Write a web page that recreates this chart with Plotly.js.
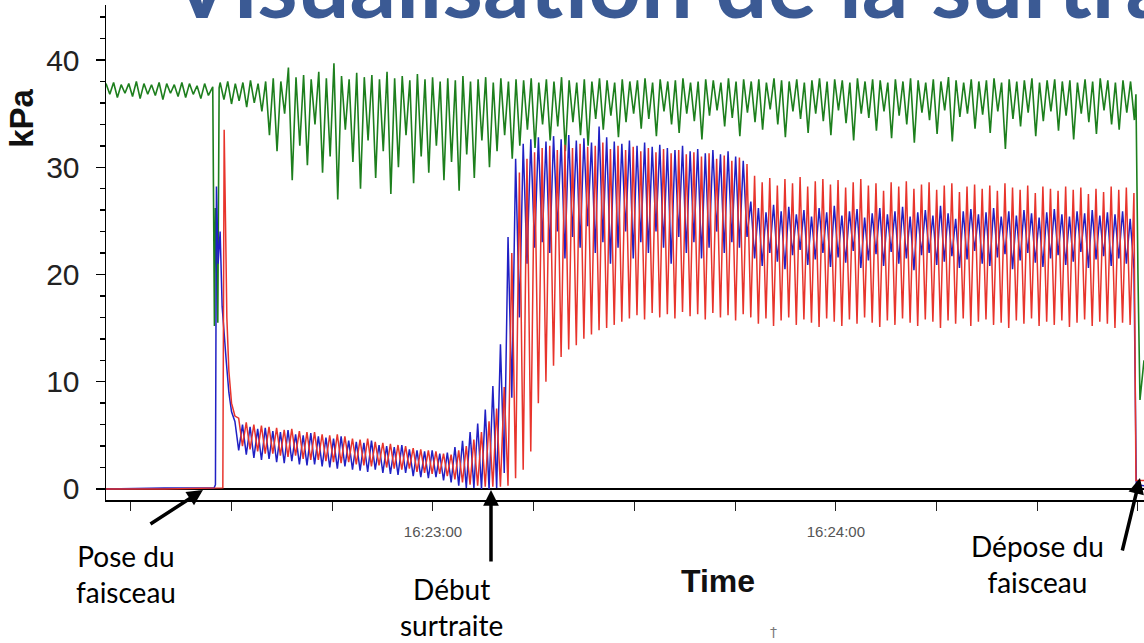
<!DOCTYPE html>
<html>
<head>
<meta charset="utf-8">
<script src="https://cdn.plot.ly/plotly-3.0.1.min.js"></script>
<style>
  html, body { margin: 0; padding: 0; background: #ffffff; }
  #chart { width: 1144px; height: 643px; }
</style>
</head>
<body>
<div id="chart"></div>
<script>
// ---- time axis (seconds after 16:22:00) ----
const xRange = [11.3, 165.9];
const tickSeconds = [15, 30, 45, 60, 75, 90, 105, 120, 135, 150, 165];
const tickLabels = ['', '', '', '16:23:00', '', '', '', '16:24:00', '', '', ''];
const cyclePeriod = 1.13;          // one breathing cycle, s

// ---- blue channel ----
const blueLeadT = [11.3, 20.0, 27.4, 27.6, 27.75, 28.0, 28.3, 28.6, 29.2, 29.6, 30.0];
const blueLeadV = [0.0, 0.1, 0.1, 0.4, 28.2, 21.0, 24.0, 17.0, 12.0, 9.0, 7.2];
const blueStart = 30.5;
const bluePeaks = [
  6.3, 6.0, 5.8, 5.6, 5.7, 5.4, 5.3, 5.5, 5.1, 5.0,
  5.2, 4.9, 4.8, 4.7, 4.9, 4.5, 4.4, 4.3, 4.5, 4.1,
  4.0, 3.9, 4.1, 3.7, 3.6, 3.5, 3.6, 3.3,
  3.4, 3.9, 4.5, 5.3, 6.1, 7.4, 9.6, 13.5, 23.5, 30.8, 32.2, 32.6,
  32.8, 32.4, 32.9, 32.6, 33.0, 32.5, 32.7, 32.3, 33.8, 32.8,
  32.4, 32.2, 32.5, 32.0, 32.3, 31.9, 32.1, 31.8, 31.6, 32.0,
  31.5, 31.7, 31.3, 31.6, 31.2, 31.5, 31.0, 30.6,
  26.8, 26.2, 25.8, 26.5, 25.9, 26.3, 25.6, 26.0, 25.4, 26.2,
  25.8, 26.4, 25.5, 25.9, 26.1, 25.3, 25.7, 26.2, 25.6, 25.9,
  26.3, 25.4, 25.8, 26.0, 25.5, 26.4, 25.7, 25.2, 25.9, 26.1,
  25.6, 25.8, 26.2, 25.4, 25.9, 25.5, 26.0, 25.7, 25.3, 25.8,
  26.1, 25.6, 25.4, 25.9, 25.7, 26.0, 25.5, 25.8, 25.6, 25.9, 25.2
];
const blueTroughs = [
  3.6, 3.2, 2.9, 2.7, 2.8, 2.5, 2.4, 2.6, 2.3, 2.2,
  2.3, 2.1, 2.0, 1.9, 2.1, 1.8, 1.7, 1.6, 1.8, 1.5,
  1.4, 1.3, 1.5, 1.2, 1.1, 1.0, 1.1, 0.8,
  0.6, 0.3, 0.1, 0.1, 0.0, 0.0, 0.1, 1.5, 8.5, 16.0, 21.0, 22.5,
  23.0, 22.0, 24.0, 21.5, 23.5, 22.5, 24.5, 22.0, 23.0, 21.0,
  22.5, 24.0, 21.5, 23.0, 22.0, 24.0, 22.5, 21.0, 23.5, 22.0,
  23.0, 21.5, 22.5, 24.0, 22.0, 23.0, 22.5, 23.5,
  21.5, 20.8, 22.0, 21.2, 20.5, 21.8, 22.3, 20.9, 21.4, 22.0,
  20.7, 21.6, 21.1, 22.2, 20.6, 21.3, 21.9, 20.8, 22.1, 21.0,
  21.5, 20.4, 21.8, 22.0, 20.9, 21.2, 21.7, 20.6, 21.4, 22.2,
  21.0, 20.8, 21.6, 21.9, 20.5, 21.3, 22.0, 21.1, 20.7, 21.5,
  21.8, 20.9, 21.2, 22.1, 20.6, 21.4, 21.7, 20.8, 21.5, 21.0, 20.5
];
const blueTailT = [164.75, 165.9];
const blueTailV = [0.4, 0.3];

// ---- red channel ----
const redLeadT = [11.3, 20.0, 28.7, 28.9, 29.1, 29.3, 29.6, 30.0, 30.5];
const redLeadV = [0.0, 0.0, 0.1, 33.5, 25.0, 16.0, 11.0, 8.0, 6.8];
const redStart = 31.06;
const redPeaks = [
  6.6, 6.2, 6.0, 5.9, 5.8, 5.7, 5.5, 5.6, 5.4, 5.3,
  5.3, 5.1, 5.0, 5.1, 4.9, 4.7, 4.6, 4.7, 4.4, 4.3,
  4.2, 4.1, 4.0, 3.8, 3.7, 3.6, 3.5, 3.3,
  3.2, 3.6, 4.0, 4.6, 5.3, 6.3, 7.5, 9.5, 22.0, 29.5, 30.8, 31.4,
  31.8, 32.0, 31.6, 32.1, 31.8, 32.2, 31.9, 32.0, 32.3, 31.7,
  32.0, 31.6, 31.9, 31.5, 31.8, 31.4, 31.7, 31.3, 31.6, 31.2,
  31.4, 31.0, 31.3, 30.8, 31.1, 30.6, 30.9, 30.3,
  29.2, 28.6, 29.0, 28.3, 28.9, 28.5, 29.1, 28.2, 28.7, 28.9,
  28.4, 28.8, 28.1, 28.6, 28.9, 28.3, 28.5, 27.8, 28.6, 28.2,
  28.7, 28.0, 28.4, 28.6, 27.9, 28.3, 28.5, 27.7, 28.2, 28.4,
  28.0, 28.3, 27.8, 28.5, 28.1, 27.9, 28.3, 27.6, 28.2, 28.0,
  27.8, 28.2, 27.9, 28.1, 27.5, 28.0, 27.7, 28.2, 27.9, 28.1, 27.6
];
const redTroughs = [
  4.0, 3.7, 3.5, 3.3, 3.3, 3.1, 3.0, 3.1, 2.8, 2.7,
  2.7, 2.6, 2.5, 2.4, 2.5, 2.3, 2.2, 2.1, 2.2, 2.0,
  1.9, 1.8, 1.9, 1.6, 1.5, 1.4, 1.4, 1.2,
  0.9, 0.6, 0.4, 0.3, 0.2, 0.2, 0.2, 0.3, 1.0, 1.8, 3.5, 8.0,
  10.0, 11.5, 12.3, 13.0, 13.4, 14.0, 14.4, 14.8, 15.0, 15.3,
  15.6, 15.9, 16.2, 15.8, 16.4, 16.0, 16.3, 15.9, 16.5, 16.1,
  16.3, 15.8, 16.4, 16.0, 16.2, 15.7, 16.3, 16.0,
  15.4, 15.9, 15.2, 15.7, 16.0, 15.3, 15.8, 15.5, 15.1, 15.9,
  15.6, 15.2, 15.8, 15.4, 16.0, 15.5, 15.1, 15.7, 15.3, 15.9,
  15.5, 15.2, 15.8, 15.6, 15.0, 15.7, 15.4, 15.9, 15.2, 15.6,
  15.8, 15.3, 15.5, 15.0, 15.7, 15.4, 15.9, 15.2, 15.6, 15.3,
  15.7, 15.1, 15.5, 15.8, 15.2, 15.6, 15.4, 15.0, 15.5, 15.3
];
const redTailT = [164.7, 165.9];
const redTailV = [0.8, 0.8];

// ---- green channel ----
const greenPreStart = 11.3;
const greenPreTops = [37.8, 37.9, 37.7, 37.8, 38.0, 37.8, 37.7, 37.9, 37.8, 37.7, 37.9, 37.8, 37.6, 37.8];
const greenPreBottoms = [36.8, 36.5, 36.9, 36.6, 36.4, 36.8, 36.7, 36.3, 36.9, 36.6, 36.5, 36.8, 36.4, 36.7];
const greenDipT = [27.2, 27.3, 27.45, 27.6, 27.75, 27.95, 28.15];
const greenDipV = [37.5, 24.0, 15.2, 26.2, 21.0, 15.5, 37.4];
const greenStart = 28.3;
const greenTops = [
  37.9, 38.0, 37.8, 37.9, 38.1, 37.8, 38.0, 38.3, 38.0, 39.3,
  38.4, 38.6, 38.2, 38.9, 38.3, 39.7, 38.5, 38.2, 38.8, 38.4,
  38.6, 38.2, 38.9, 38.3, 38.5, 38.1, 38.7, 38.2, 38.4, 38.0,
  38.3, 38.1, 38.5, 38.0, 38.2, 38.4, 37.9, 38.3, 38.0, 38.2,
  38.1, 38.3, 37.9, 38.2, 38.0, 38.4, 38.1, 37.9, 38.2, 38.0,
  38.3, 38.1, 37.9, 38.2, 38.0, 38.1, 38.3, 37.9, 38.2, 38.0,
  38.1, 38.3, 37.9, 38.0, 38.2, 38.1, 37.9, 38.3, 38.0, 38.2,
  38.0, 38.2, 37.9, 38.3, 38.1, 38.0, 38.2, 37.9, 38.1, 38.3,
  38.0, 38.2, 38.1, 37.9, 38.3, 38.0, 38.2, 38.1, 37.9, 38.2,
  38.0, 38.3, 38.1, 37.9, 38.2, 38.0, 38.4, 38.1, 37.9, 38.2,
  38.0, 38.1, 38.3, 37.9, 38.2, 38.0, 38.1, 38.3, 37.9, 38.1,
  38.2, 38.0, 38.1, 37.9, 38.2, 38.0, 38.3, 38.1, 37.9, 38.1, 38.0
];
const greenBottoms = [
  36.3, 35.9, 36.2, 35.6, 36.0, 35.2, 33.0, 31.5, 35.0, 28.8,
  32.0, 30.2, 34.0, 29.5, 31.0, 27.0, 33.5, 30.5, 28.0, 32.5,
  29.0, 31.5, 27.5, 30.0, 33.0, 28.5, 31.0, 29.5, 32.0, 28.8,
  30.5, 27.8, 31.2, 29.0, 32.5, 30.0, 31.5, 33.0, 30.8, 32.0,
  33.5, 31.8, 34.0, 32.5, 33.8, 31.5, 34.2, 33.0, 32.0, 34.5,
  33.5, 34.8, 32.8, 34.2, 35.0, 33.6, 34.5, 32.9, 35.2, 34.0,
  33.2, 35.0, 34.3, 32.6, 34.8, 35.3, 33.8, 34.6, 32.9, 35.1,
  34.2, 33.5, 35.4, 34.0, 32.8, 35.2, 34.5, 33.2, 35.0, 34.3,
  33.0, 35.3, 34.1, 32.5, 35.0, 34.6, 33.4, 35.2, 32.7, 34.8,
  34.0, 32.3, 35.1, 34.4, 33.1, 35.3, 32.4, 34.7, 35.0, 33.6,
  34.9, 33.2, 35.2, 31.7, 34.5, 33.8, 35.1, 32.9, 34.3, 35.2,
  33.4, 34.8, 32.6, 35.0, 34.2, 33.1, 35.3, 34.0, 33.5, 35.1, 34.4
];
const greenTailT = [164.7, 165.0, 165.3, 165.9];
const greenTailV = [36.8, 20.0, 8.3, 12.0];

// ---- build traces from the arrays ----
function cycles(start, tops, bottoms) {
  const x = [], y = [];
  for (let i = 0; i < tops.length; i++) {
    x.push(start + i * cyclePeriod); y.push(tops[i]);
    if (i < bottoms.length) { x.push(start + i * cyclePeriod + cyclePeriod / 2); y.push(bottoms[i]); }
  }
  return { x, y };
}
function join(parts) {
  const x = [], y = [];
  parts.forEach(p => { x.push(...p.x); y.push(...p.y); });
  return { x, y };
}

const green = join([
  cycles(greenPreStart, greenPreTops, greenPreBottoms),
  { x: greenDipT, y: greenDipV },
  cycles(greenStart, greenTops, greenBottoms),
  { x: greenTailT, y: greenTailV }
]);
const blue = join([
  { x: blueLeadT, y: blueLeadV },
  cycles(blueStart, bluePeaks, blueTroughs),
  { x: blueTailT, y: blueTailV }
]);
const red = join([
  { x: redLeadT, y: redLeadV },
  cycles(redStart, redPeaks, redTroughs),
  { x: redTailT, y: redTailV }
]);

const traces = [
  { x: green.x, y: green.y, mode: 'lines', line: { color: '#1d7f1d', width: 1.6 }, hoverinfo: 'skip' },
  { x: blue.x, y: blue.y, mode: 'lines', line: { color: '#2020c4', width: 1.5 }, hoverinfo: 'skip' },
  { x: red.x, y: red.y, mode: 'lines', line: { color: '#e8342c', width: 1.5 }, hoverinfo: 'skip' }
];

const narrow = 'Liberation Sans Narrow, Liberation Sans, Arial, sans-serif';
const callout = 'Lato, Open Sans, sans-serif';

const layout = {
  width: 1144, height: 643,
  margin: { l: 106, r: 0, t: 5, b: 143, pad: 0 },
  paper_bgcolor: '#ffffff', plot_bgcolor: '#ffffff',
  showlegend: false,
  xaxis: {
    range: xRange, showgrid: false, zeroline: false,
    showline: true, linecolor: '#000', linewidth: 1.5,
    tickmode: 'array', tickvals: tickSeconds, ticktext: tickLabels,
    ticks: 'outside', ticklen: 9, tickwidth: 1, tickcolor: '#222',
    ticklabelstandoff: 8,
    tickfont: { family: narrow, size: 15, color: '#555' }
  },
  yaxis: {
    range: [-1.03, 45.13], showgrid: false,
    zeroline: true, zerolinecolor: '#000', zerolinewidth: 1.5,
    showline: true, linecolor: '#000', linewidth: 1.5,
    tickmode: 'array', tickvals: [0, 10, 20, 30, 40],
    ticks: 'outside', ticklen: 9, tickwidth: 1.5, tickcolor: '#000',
    minor: { tickmode: 'linear', tick0: 0, dtick: 2, ticks: 'outside', ticklen: 5, tickwidth: 1.5, tickcolor: '#000' },
    ticklabelstandoff: 10,
    tickfont: { family: narrow, size: 30, color: '#222' }
  },
  annotations: [
    { text: '<b>Visualisation de la surtraite</b>', xref: 'paper', yref: 'paper', x: 0.0588, y: 1.046,
      xanchor: 'left', yanchor: 'middle', showarrow: false,
      font: { family: 'Lato, Open Sans, sans-serif', size: 92, color: '#3b5a94' } },
    { text: '<b>kPa</b>', xref: 'paper', yref: 'paper', x: -0.081, y: 0.772, textangle: -90,
      xanchor: 'center', yanchor: 'middle', showarrow: false,
      font: { family: 'Liberation Sans, Arial, sans-serif', size: 33, color: '#111' } },
    { text: '<b>Time</b>', xref: 'paper', yref: 'paper', x: 0.5896, y: -0.1636,
      xanchor: 'center', yanchor: 'middle', showarrow: false,
      font: { family: narrow, size: 32, color: '#111' } },
    { text: '†', xref: 'paper', yref: 'paper', x: 0.6426, y: -0.2667,
      xanchor: 'center', yanchor: 'middle', showarrow: false,
      font: { family: 'DejaVu Sans, sans-serif', size: 14, color: '#777' } },
    { text: 'Pose du<br>faisceau', xref: 'paper', yref: 'paper', x: 0.0193, y: -0.1495,
      xanchor: 'center', yanchor: 'middle', align: 'center', showarrow: false,
      font: { family: callout, size: 28, color: '#000' } },
    { text: 'Début<br>surtraite', xref: 'paper', yref: 'paper', x: 0.3333, y: -0.2163,
      xanchor: 'center', yanchor: 'middle', align: 'center', showarrow: false,
      font: { family: callout, size: 28, color: '#000' } },
    { text: 'Dépose du<br>faisceau', xref: 'paper', yref: 'paper', x: 0.897, y: -0.1294,
      xanchor: 'center', yanchor: 'middle', align: 'center', showarrow: false,
      font: { family: callout, size: 28, color: '#000' } },
    { text: '', xref: 'paper', yref: 'paper', x: 0.0934, y: 0.0202, ax: -54, ay: 35,
      showarrow: true, arrowhead: 2, arrowsize: 0.9, arrowwidth: 3.5, arrowcolor: '#000' },
    { text: '', xref: 'paper', yref: 'paper', x: 0.3709, y: 0.0202, ax: 0, ay: 73,
      showarrow: true, arrowhead: 2, arrowsize: 0.9, arrowwidth: 3.5, arrowcolor: '#000' },
    { text: '', xref: 'paper', yref: 'paper', x: 0.9961, y: 0.0444, ax: -18, ay: 74,
      showarrow: true, arrowhead: 2, arrowsize: 0.9, arrowwidth: 3.5, arrowcolor: '#000' }
  ]
};

Plotly.newPlot('chart', traces, layout, { staticPlot: true, displayModeBar: false });
</script>
</body>
</html>
